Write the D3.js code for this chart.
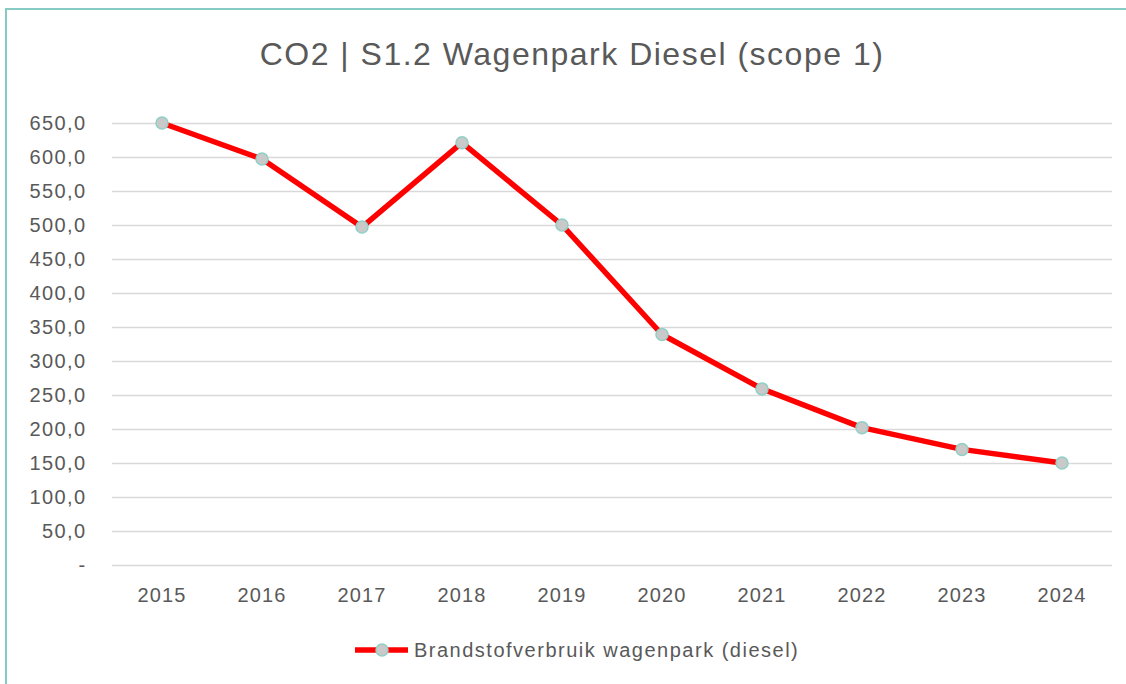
<!DOCTYPE html>
<html>
<head>
<meta charset="utf-8">
<script src="https://cdn.jsdelivr.net/npm/d3@7"></script>
<style>
  html, body { margin: 0; padding: 0; background: #fff; }
  svg { display: block; }
</style>
</head>
<body>
<svg id="chart" width="1126" height="684"></svg>
<script>
const title = "CO2 | S1.2 Wagenpark Diesel (scope 1)";
const seriesName = "Brandstofverbruik wagenpark (diesel)";
const years = ["2015","2016","2017","2018","2019","2020","2021","2022","2023","2024"];
const values = [650, 597, 497, 621, 500, 339, 259, 202, 170, 150];
const yTicks = [0, 50, 100, 150, 200, 250, 300, 350, 400, 450, 500, 550, 600, 650];

const svg = d3.select("#chart");
const font = "'Liberation Sans', Arial, sans-serif";
const textColor = "#595959";

// outer border
svg.append("rect")
  .attr("x", 6).attr("y", 9).attr("width", 1140).attr("height", 700)
  .attr("fill", "#fff").attr("stroke", "#86cbc3").attr("stroke-width", 2);

const plotL = 112, plotR = 1112, plotT = 123, plotB = 565;
const x = d3.scaleBand().domain(years).range([plotL, plotR]);
const y = d3.scaleLinear().domain([0, 650]).range([plotB, plotT]);

// title
svg.append("text")
  .attr("x", 572).attr("y", 65)
  .attr("text-anchor", "middle")
  .attr("font-family", font).attr("font-size", 32)
  .attr("letter-spacing", 1.5)
  .attr("fill", textColor)
  .text(title);

// gridlines + y axis
const fmt = v => v === 0 ? "-" : d3.format(".1f")(v).replace(".", ",");
const yAxis = d3.axisLeft(y).tickValues(yTicks).tickSize(-(plotR - plotL)).tickFormat(fmt).tickPadding(25.5);
const gy = svg.append("g").attr("transform", `translate(${plotL},0)`).call(yAxis);
gy.select(".domain").remove();
gy.selectAll(".tick line").attr("stroke", "#d9d9d9").attr("stroke-width", 1.3);
gy.selectAll(".tick text")
  .attr("font-family", font).attr("font-size", 20).attr("letter-spacing", 1.4)
  .attr("fill", textColor);

const xAxis = d3.axisBottom(x).tickSize(0).tickPadding(23);
const gx = svg.append("g").attr("transform", `translate(0,${plotB})`).call(xAxis);
gx.select(".domain").remove();
gx.selectAll(".tick text")
  .attr("font-family", font).attr("font-size", 20).attr("letter-spacing", 1.1)
  .attr("fill", textColor);

const data = years.map((yr, i) => ({ yr, v: values[i] }));
const cx = d => x(d.yr) + x.bandwidth() / 2;

svg.append("path")
  .datum(data)
  .attr("fill", "none")
  .attr("stroke", "#ff0000")
  .attr("stroke-width", 5.5)
  .attr("stroke-linejoin", "round")
  .attr("d", d3.line().x(cx).y(d => y(d.v)));

svg.selectAll("circle.pt")
  .data(data).enter().append("circle")
  .attr("class", "pt")
  .attr("cx", cx).attr("cy", d => y(d.v))
  .attr("r", 6)
  .attr("fill", "#c9c9c9")
  .attr("stroke", "#8fd0c6").attr("stroke-width", 1.5);

// legend
const lg = svg.append("g");
lg.append("line").attr("x1", 355).attr("x2", 408).attr("y1", 650).attr("y2", 650)
  .attr("stroke", "#ff0000").attr("stroke-width", 5.5);
lg.append("circle").attr("cx", 382).attr("cy", 650).attr("r", 6)
  .attr("fill", "#c9c9c9").attr("stroke", "#8fd0c6").attr("stroke-width", 1.5);
lg.append("text").attr("x", 414).attr("y", 657)
  .attr("font-family", font).attr("font-size", 20).attr("letter-spacing", 1.5)
  .attr("fill", textColor)
  .text(seriesName);
</script>
</body>
</html>
